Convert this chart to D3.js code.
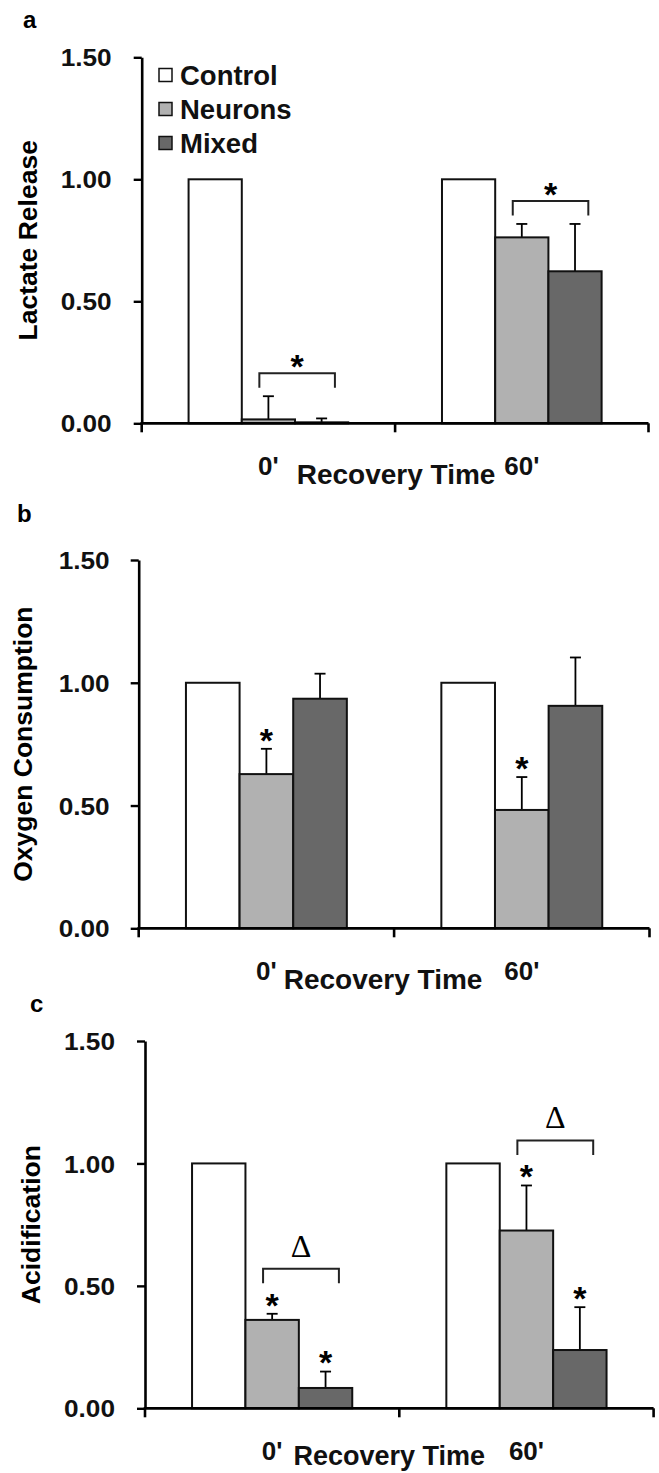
<!DOCTYPE html>
<html><head><meta charset="utf-8">
<script src="https://cdn.jsdelivr.net/npm/d3@7"></script>
<style>body{margin:0;background:#fff} svg{display:block}</style>
</head><body>
<script>
// ---- data ----
const series = ["Control", "Neurons", "Mixed"];
const times = ["0'", "60'"];
const yTicks = [0, 0.5, 1.0, 1.5];
const yTitles = ["Lactate Release", "Oxygen Consumption", "Acidification"];
const panelLetters = ["a", "b", "c"];
const xTitle = "Recovery Time";

// values at [0', 60']
const lactateControl = [1.00, 1.00];
const lactateNeurons = [0.016, 0.762];
const lactateMixed = [0.004, 0.623];
const lactateNeuronsErr = [0.095, 0.055];
const lactateMixedErr = [0.016, 0.194];

const oxygenControl = [1.00, 1.00];
const oxygenNeurons = [0.628, 0.482];
const oxygenMixed = [0.935, 0.906];
const oxygenNeuronsErr = [0.103, 0.134];
const oxygenMixedErr = [0.102, 0.197];

const acidControl = [1.00, 1.00];
const acidNeurons = [0.361, 0.726];
const acidMixed = [0.083, 0.238];
const acidNeuronsErr = [0.025, 0.184];
const acidMixedErr = [0.067, 0.175];

const noErr = [0, 0];

// significance marks
const lactateStars = [];
const oxygenStars = [["0'", "Neurons"], ["60'", "Neurons"]];
const acidStars = [["0'", "Neurons"], ["0'", "Mixed"], ["60'", "Neurons"], ["60'", "Mixed"]];
const lactateBrackets = [["0'", "*"], ["60'", "*"]];
const oxygenBrackets = [];
const acidBrackets = [["0'", "\u0394"], ["60'", "\u0394"]];

const fills = { Control: "#ffffff", Neurons: "#b1b1b1", Mixed: "#686868" };

// ---- drawing ----
const W = 659, H = 1473;
const FONT = "'Liberation Sans', Arial, sans-serif";
const svg = d3.select("body").append("svg").attr("width", W).attr("height", H)
  .style("font-family", FONT);

const panels = [
  { letter: panelLetters[0], title: yTitles[0],
    values: { Control: lactateControl, Neurons: lactateNeurons, Mixed: lactateMixed },
    errs: { Control: noErr, Neurons: lactateNeuronsErr, Mixed: lactateMixedErr },
    stars: lactateStars, brackets: lactateBrackets,
    L: { top: 57.3, bottom: 423.3, left: 141.7, right: 648.5, letterX: 23, letterY: 28, titleX: 37, labGap: 30, xtShift: 1, xtDy: 61, xtFs: 28, legend: true } },
  { letter: panelLetters[1], title: yTitles[1],
    values: { Control: oxygenControl, Neurons: oxygenNeurons, Mixed: oxygenMixed },
    errs: { Control: noErr, Neurons: oxygenNeuronsErr, Mixed: oxygenMixedErr },
    stars: oxygenStars, brackets: oxygenBrackets,
    L: { top: 560, bottom: 928.3, left: 138.7, right: 649.5, letterX: 17, letterY: 522, titleX: 32, labGap: 29, xtShift: -11, xtDy: 61, xtFs: 28, legend: false } },
  { letter: panelLetters[2], title: yTitles[2],
    values: { Control: acidControl, Neurons: acidNeurons, Mixed: acidMixed },
    errs: { Control: noErr, Neurons: acidNeuronsErr, Mixed: acidMixedErr },
    stars: acidStars, brackets: acidBrackets,
    L: { top: 1041, bottom: 1408.3, left: 145, right: 653.6, letterX: 30, letterY: 1012, titleX: 40, labGap: 30, xtShift: -10, xtDy: 57, xtFs: 27, legend: false } }
];

const STAR_FS = 34;
function starY(cy) { return cy + 0.58 * STAR_FS; }

panels.forEach(p => {
  const L = p.L;
  const g = svg.append("g");
  const y = d3.scaleLinear().domain([0, 1.5]).range([L.bottom, L.top]);
  const x0 = d3.scaleBand().domain(times).range([L.left, L.right]).padding(0);
  const bw0 = x0.bandwidth();
  const x1 = d3.scaleBand().domain(series).range([bw0 * 0.185, bw0 * 0.815]).padding(0);

  // panel letter
  g.append("text").attr("x", L.letterX).attr("y", L.letterY)
    .attr("font-size", 24).attr("font-weight", "bold").text(p.letter);

  // y title
  g.append("text")
    .attr("transform", `translate(${L.titleX},${(L.top + L.bottom) / 2}) rotate(-90)`)
    .attr("text-anchor", "middle").attr("font-size", 26.5).attr("font-weight", "bold")
    .text(p.title);

  // bars
  const rows = [];
  times.forEach((t, ti) => series.forEach(s => rows.push({ t, s, v: p.values[s][ti], e: p.errs[s][ti] })));

  const eb = g.append("g").attr("stroke", "#000").attr("stroke-width", 1.8);
  rows.filter(d => d.e > 0).forEach(d => {
    const cx = x0(d.t) + x1(d.s) + x1.bandwidth() / 2;
    eb.append("line").attr("x1", cx).attr("x2", cx).attr("y1", y(d.v)).attr("y2", y(d.v + d.e));
    eb.append("line").attr("x1", cx - 5.5).attr("x2", cx + 5.5).attr("y1", y(d.v + d.e)).attr("y2", y(d.v + d.e));
  });

  g.append("g").selectAll("rect").data(rows).join("rect")
    .attr("x", d => x0(d.t) + x1(d.s))
    .attr("y", d => y(d.v))
    .attr("width", x1.bandwidth())
    .attr("height", d => y(0) - y(d.v))
    .attr("fill", d => fills[d.s])
    .attr("stroke", "#111").attr("stroke-width", 2);

  // y axis
  const ya = g.append("g").attr("transform", `translate(${L.left},0)`)
    .call(d3.axisLeft(y).tickValues(yTicks).tickFormat(d3.format(".2f")).tickSize(8).tickSizeOuter(0).tickPadding(L.labGap - 8));
  ya.select(".domain").attr("stroke", "#000").attr("stroke-width", 2.6);
  ya.selectAll(".tick line").attr("stroke", "#000").attr("stroke-width", 2.4);
  ya.selectAll(".tick text").attr("font-size", 24).attr("font-weight", "bold")
    .attr("font-family", FONT).attr("fill", "#111").attr("dy", "0.36em")
    .attr("textLength", 51).attr("lengthAdjust", "spacingAndGlyphs");

  // x axis: category labels at band centres
  const xa = g.append("g").attr("transform", `translate(0,${L.bottom})`)
    .call(d3.axisBottom(x0).tickSize(0).tickPadding(33));
  xa.select(".domain").remove();
  xa.selectAll(".tick text").attr("font-size", 26).attr("font-weight", "bold")
    .attr("font-family", FONT).attr("fill", "#111");
  g.append("line").attr("x1", L.left - 1.3).attr("x2", L.right).attr("y1", L.bottom).attr("y2", L.bottom)
    .attr("stroke", "#000").attr("stroke-width", 2.8);
  const bounds = [x0.range()[0]].concat(times.map(t => x0(t) + bw0));
  g.append("g").selectAll("line").data(bounds).join("line")
    .attr("x1", d => d).attr("x2", d => d).attr("y1", L.bottom).attr("y2", L.bottom + 9)
    .attr("stroke", "#000").attr("stroke-width", 2.6);

  // x title
  g.append("text").attr("x", (L.left + L.right) / 2 + L.xtShift).attr("y", L.bottom + L.xtDy)
    .attr("text-anchor", "middle").attr("font-size", L.xtFs).attr("font-weight", "bold").attr("fill", "#111")
    .text(xTitle);

  // stars on bars
  const errTop = (t, s) => y(p.values[s][times.indexOf(t)] + p.errs[s][times.indexOf(t)]);
  p.stars.forEach(([t, s]) => {
    const cx = x0(t) + x1(s) + x1.bandwidth() / 2;
    g.append("text").attr("x", cx).attr("y", starY(errTop(t, s) - 17))
      .attr("text-anchor", "middle").attr("font-size", STAR_FS).attr("font-weight", "bold").text("*");
  });

  // brackets
  p.brackets.forEach(([t, label]) => {
    const hasStar = p.stars.some(st => st[0] === t);
    const top = Math.min(errTop(t, "Neurons"), errTop(t, "Mixed"));
    const by = hasStar ? top - 17 - 28 : top - 23;
    const xa1 = x0(t) + x1("Neurons") + x1.bandwidth() * 0.33;
    const xb1 = x0(t) + x1("Mixed") + x1.bandwidth() * 0.75;
    g.append("path")
      .attr("d", `M${xa1},${by + 14.5}V${by}H${xb1}V${by + 14.5}`)
      .attr("fill", "none").attr("stroke", "#222").attr("stroke-width", 2);
    const cx = (xa1 + xb1) / 2;
    if (label === "*") {
      g.append("text").attr("x", cx).attr("y", starY(by - 15))
        .attr("text-anchor", "middle").attr("font-size", STAR_FS).attr("font-weight", "bold").text(label);
    } else {
      g.append("text").attr("x", cx).attr("y", by - 12)
        .attr("text-anchor", "middle").attr("font-size", 32)
        .attr("font-family", "'Liberation Serif', 'DejaVu Serif', serif").text(label);
    }
  });

  // legend
  if (L.legend) {
    const lg = g.append("g");
    series.forEach((s, i) => {
      const cy = 75 + i * 34;
      lg.append("rect").attr("x", 159).attr("y", cy - 6.5).attr("width", 13).attr("height", 13)
        .attr("fill", fills[s]).attr("stroke", "#111").attr("stroke-width", 1.5);
      lg.append("text").attr("x", 180).attr("y", cy).attr("dy", "0.36em")
        .attr("font-size", 27.5).attr("font-weight", "bold").attr("fill", "#111").text(s);
    });
  }
});
</script>
</body></html>
